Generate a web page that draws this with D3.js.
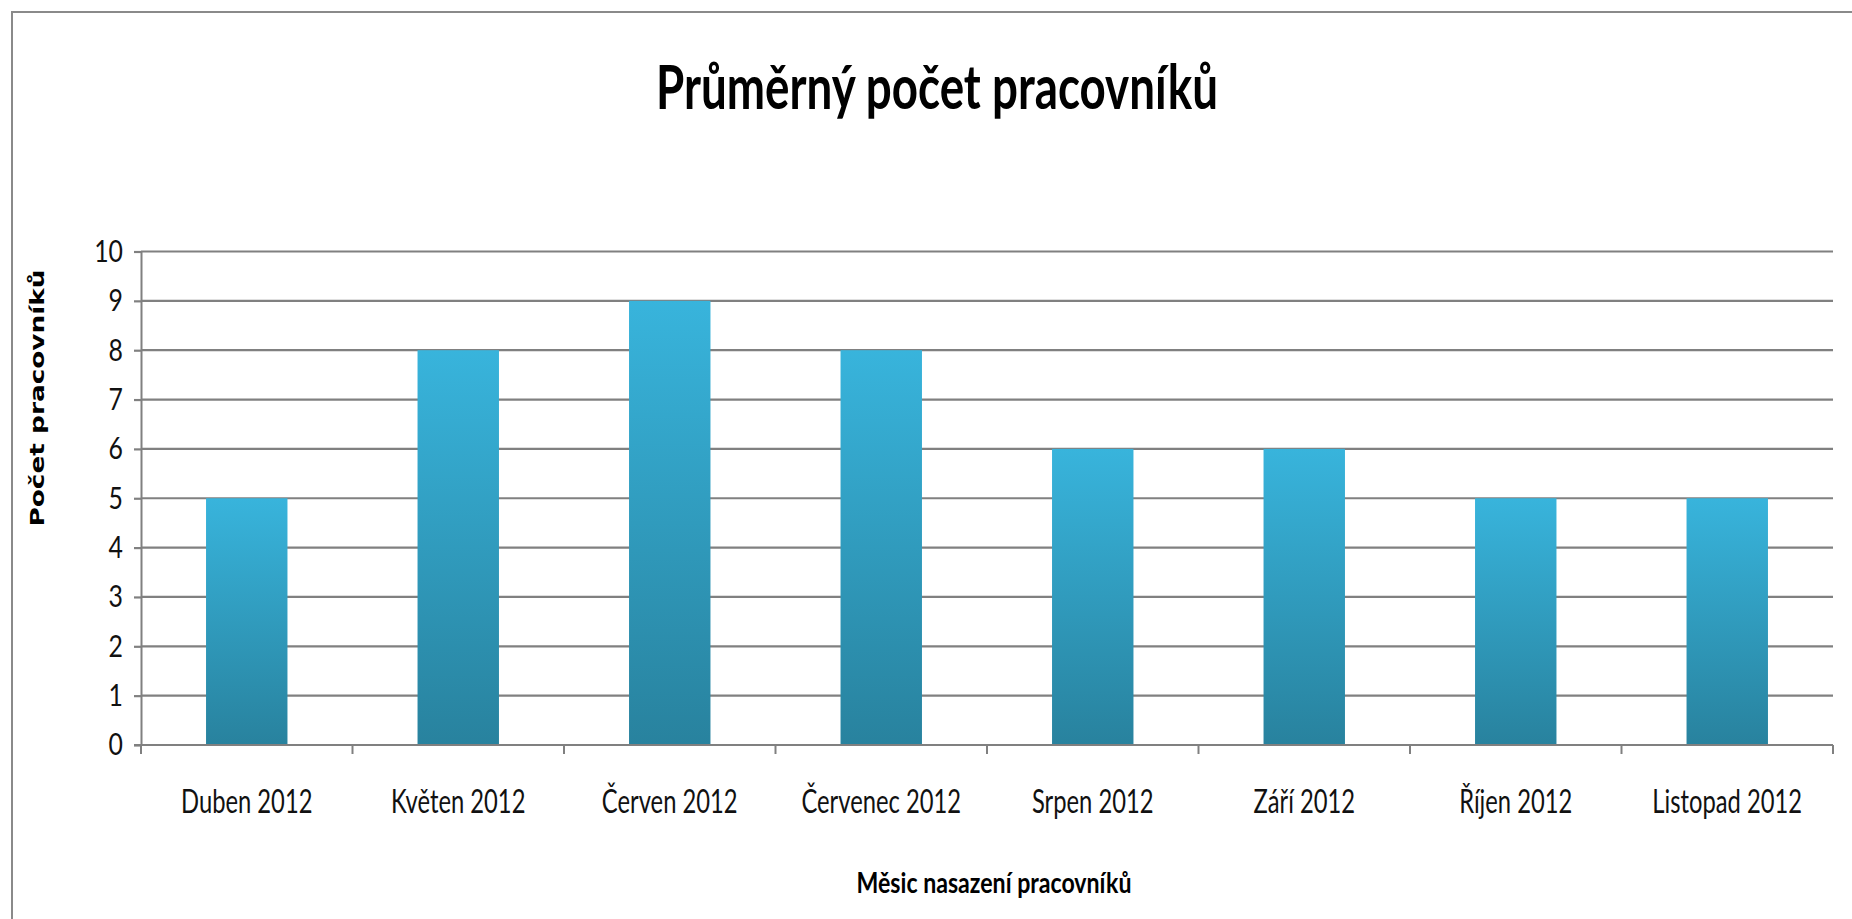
<!DOCTYPE html>
<html>
<head>
<meta charset="utf-8">
<script src="https://cdn.jsdelivr.net/npm/d3@7"></script>
<style>
  body { margin: 0; background: #fff; }
  svg { display: block; }
</style>
</head>
<body>
<script>
// Monthly average headcount, April - November 2012
const months = ["Duben 2012", "Květen 2012", "Červen 2012", "Červenec 2012",
                "Srpen 2012", "Září 2012", "Říjen 2012", "Listopad 2012"];
const workers = [5, 8, 9, 8, 6, 6, 5, 5];
const yTicks = [0, 1, 2, 3, 4, 5, 6, 7, 8, 9, 10];

const chartTitle = "Průměrný počet pracovníků";
const yTitle = "Počet pracovníků";
const xTitle = "Měsic nasazení pracovníků";

const W = 1852, H = 919;
const plot = { left: 141, right: 1833, top: 251.5, bottom: 745 };
const gridColor = "#808080";
const sansFont = "Lato, 'Open Sans', sans-serif";

const svg = d3.select("body").append("svg")
  .attr("width", W).attr("height", H);

// squeeze a text element horizontally to a given share of its natural width
function squeeze(sel, factor) {
  sel.each(function () {
    const len = this.getComputedTextLength();
    d3.select(this).attr("textLength", len * factor).attr("lengthAdjust", "spacingAndGlyphs");
  });
}
function fitTo(sel, length) {
  sel.attr("textLength", length).attr("lengthAdjust", "spacingAndGlyphs");
}

// chart frame (only top and left edges fall inside the page)
svg.append("rect")
  .attr("x", 12).attr("y", 12)
  .attr("width", W + 20).attr("height", H + 20)
  .attr("fill", "#fff")
  .attr("stroke", "#8a8a8a").attr("stroke-width", 2);

const defs = svg.append("defs");
const grad = defs.append("linearGradient")
  .attr("id", "barFill").attr("x1", 0).attr("y1", 0).attr("x2", 0).attr("y2", 1);
grad.append("stop").attr("offset", "0%").attr("stop-color", "#38b4dc");
grad.append("stop").attr("offset", "100%").attr("stop-color", "#28829e");

const x = d3.scaleBand()
  .domain(months)
  .range([plot.left, plot.right])
  .paddingInner(0.615)
  .paddingOuter(0.3075);

const y = d3.scaleLinear()
  .domain([0, 10])
  .range([plot.bottom, plot.top]);

// horizontal gridlines
svg.append("g")
  .selectAll("line")
  .data(yTicks.filter(d => d > 0))
  .join("line")
  .attr("x1", plot.left).attr("x2", plot.right)
  .attr("y1", d => y(d)).attr("y2", d => y(d))
  .attr("stroke", gridColor).attr("stroke-width", 2.2);

// bars
svg.append("g")
  .selectAll("rect")
  .data(months.map((m, i) => ({ month: m, value: workers[i] })))
  .join("rect")
  .attr("x", d => x(d.month))
  .attr("width", x.bandwidth())
  .attr("y", d => y(d.value))
  .attr("height", d => y(0) - y(d.value))
  .attr("fill", "url(#barFill)");

// y axis
const yAxis = svg.append("g")
  .attr("transform", `translate(${plot.left},0)`)
  .call(d3.axisLeft(y).tickValues(yTicks).tickSize(7).tickPadding(11).tickSizeOuter(0));
yAxis.select(".domain").attr("stroke", gridColor).attr("stroke-width", 2);
yAxis.selectAll(".tick line").attr("stroke", gridColor).attr("stroke-width", 2.2);
yAxis.selectAll(".tick text")
  .attr("fill", "#111")
  .style("font-family", sansFont)
  .style("font-size", "31px")
  .call(squeeze, 0.8);

// x axis line and category boundary ticks
const xAxis = svg.append("g");
xAxis.append("line")
  .attr("x1", plot.left - 7).attr("x2", plot.right)
  .attr("y1", y(0)).attr("y2", y(0))
  .attr("stroke", gridColor).attr("stroke-width", 2.2);
xAxis.selectAll("line.bound")
  .data(d3.range(months.length + 1))
  .join("line")
  .attr("class", "bound")
  .attr("x1", i => plot.left + i * x.step()).attr("x2", i => plot.left + i * x.step())
  .attr("y1", y(0)).attr("y2", y(0) + 9)
  .attr("stroke", gridColor).attr("stroke-width", 2);

// category labels
svg.append("g")
  .selectAll("text")
  .data(months)
  .join("text")
  .attr("x", d => x(d) + x.bandwidth() / 2)
  .attr("y", 813)
  .attr("text-anchor", "middle")
  .attr("fill", "#111")
  .style("font-family", sansFont)
  .style("font-size", "33px")
  .text(d => d)
  .call(squeeze, 0.72);

// titles
svg.append("text")
  .attr("x", 937).attr("y", 109)
  .attr("text-anchor", "middle")
  .attr("fill", "#000")
  .style("font-family", sansFont)
  .style("font-weight", 700)
  .style("font-size", "62px")
  .text(chartTitle)
  .call(fitTo, 562);

svg.append("text")
  .attr("transform", "translate(44,398) rotate(-90)")
  .attr("text-anchor", "middle")
  .attr("fill", "#000")
  .style("font-family", "'DejaVu Sans', Verdana, sans-serif")
  .style("font-weight", 700)
  .style("font-size", "20px")
  .text(yTitle)
  .call(fitTo, 257);

svg.append("text")
  .attr("x", 994).attr("y", 893)
  .attr("text-anchor", "middle")
  .attr("fill", "#000")
  .style("font-family", sansFont)
  .style("font-weight", 700)
  .style("font-size", "28px")
  .text(xTitle)
  .call(fitTo, 275);
</script>
</body>
</html>
